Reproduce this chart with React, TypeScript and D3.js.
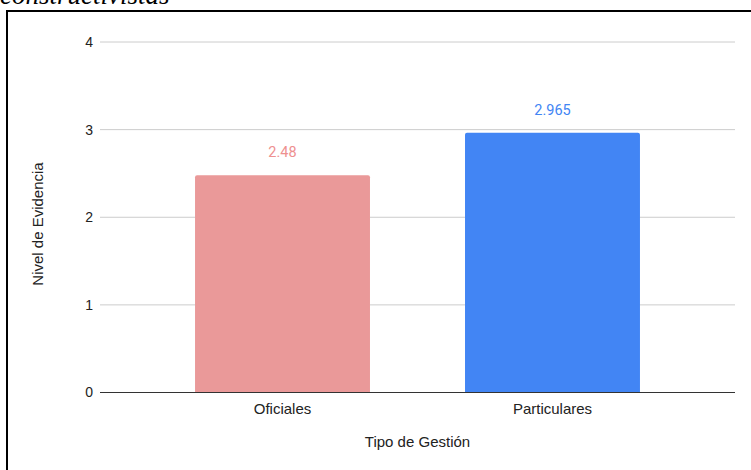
import React, { useEffect } from "react";
import * as d3 from "d3";

const categories = ["Oficiales", "Particulares"];
const values = [2.48, 2.965];
const barColors = ["#ea9999", "#4285f4"];
const labelColors = ["#ee9090", "#4285f4"];
const yTicks = [0, 1, 2, 3, 4];

const W = 751;
const H = 470;
const font = "Liberation Sans, Arial, sans-serif";

const App = () => {
  useEffect(() => {
    document.body.style.margin = "0";
  }, []);

  const x = d3
    .scaleBand<string>()
    .domain(categories)
    .range([100, 735])
    .paddingInner(0.352)
    .paddingOuter(0.352);
  const y = d3.scaleLinear().domain([0, 4]).range([392.5, 42]);

  // top-rounded bar path
  const barPath = (x0: number, y0: number, w: number, h: number, r: number) => {
    const p = d3.path();
    p.moveTo(x0, y0 + h);
    p.lineTo(x0, y0 + r);
    p.quadraticCurveTo(x0, y0, x0 + r, y0);
    p.lineTo(x0 + w - r, y0);
    p.quadraticCurveTo(x0 + w, y0, x0 + w, y0 + r);
    p.lineTo(x0 + w, y0 + h);
    p.closePath();
    return p.toString();
  };

  return (
    <svg width={W} height={H} style={{ display: "block", background: "#fff" }}>
      <text
        x={0}
        y={4}
        fontFamily="Liberation Serif, Times New Roman, serif"
        fontStyle="italic"
        fontSize={27}
        fill="#000"
      >
        constructivistas
      </text>
      <rect x={7} y={11} width={W + 10} height={H + 10} fill="none" stroke="#000" strokeWidth={2} />

      {yTicks.map((t) => (
        <g key={t}>
          {t !== 0 && (
            <line x1={100} x2={735} y1={y(t)} y2={y(t)} stroke="#cccccc" strokeWidth={1} />
          )}
          <text
            x={93}
            y={y(t)}
            dy="0.35em"
            textAnchor="end"
            fontFamily={font}
            fontSize={14}
            fill="#222"
          >
            {t}
          </text>
        </g>
      ))}

      {categories.map((c, i) => {
        const bx = x(c) as number;
        const bw = x.bandwidth();
        const top = y(values[i]);
        return (
          <g key={c}>
            <path d={barPath(bx, top, bw, y(0) - top, 2)} fill={barColors[i]} />
            <text
              x={bx + bw / 2}
              y={top - 18}
              textAnchor="middle"
              fontFamily="Roboto, Arial, sans-serif"
              fontSize={14.5}
              fill={labelColors[i]}
            >
              {values[i]}
            </text>
            <text
              x={bx + bw / 2}
              y={413.5}
              textAnchor="middle"
              fontFamily={font}
              fontSize={15}
              fill="#222"
            >
              {c}
            </text>
          </g>
        );
      })}

      <line x1={100} x2={735} y1={y(0)} y2={y(0)} stroke="#333" strokeWidth={1.2} />

      <text x={417.5} y={447} textAnchor="middle" fontFamily={font} fontSize={15} fill="#222">
        Tipo de Gestión
      </text>
      <text
        transform={`translate(43, 224) rotate(-90)`}
        textAnchor="middle"
        fontFamily={font}
        fontSize={15}
        fill="#222"
      >
        Nivel de Evidencia
      </text>
    </svg>
  );
};

export default App;
